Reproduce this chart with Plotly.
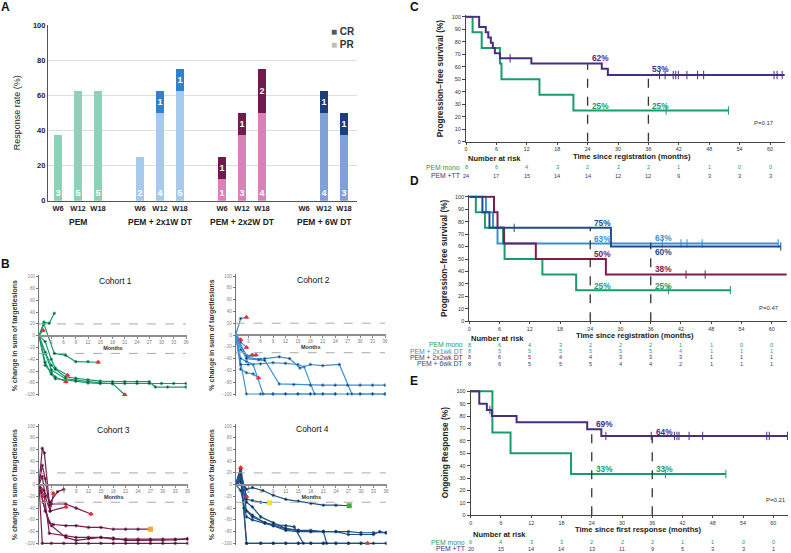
import plotly.graph_objects as go

W, H = 791, 553
FONT = "Liberation Sans, Arial, sans-serif"

# ---------------- Panel A data ----------------
groups = ["PEM", "PEM + 2x1W DT", "PEM + 2x2W DT", "PEM + 6W DT"]
weeks = ["W6", "W12", "W18"]
n_per_cohort = 8
pr_counts = [[3, 5, 5], [2, 4, 5], [1, 3, 4], [0, 4, 3]]
cr_counts = [[0, 0, 0], [0, 1, 1], [1, 1, 2], [0, 1, 1]]
pr_colors = ["#8fd1b6", "#a7c9ec", "#d982b9", "#7fa0d8"]
cr_colors = ["#8fd1b6", "#2d82cb", "#6e1b4d", "#1a3f7b"]

# ---------------- Panel B data (months, % change, end marker) ----------------
cohort1 = [
    ([0, 1.0], [0, 9], "prog"),
    ([0, 1.2, 2.5, 3.75], [0, 23, 21, 38], None),
    ([0, 1.2, 3.75, 6.5, 9, 12, 14.5], [0, 20, -30, -33, -44, -44, -45], "prog"),
    ([0, 1.5, 3, 4, 7], [0, -10, -40, -55, -67], "prog"),
    ([0, 1.5, 3, 4, 6.6], [0, -50, -62, -70, -78], "prog"),
    ([0, 1.5, 3, 6.5, 9, 12, 15, 18, 21], [0, -30, -58, -73, -75, -78, -80, -81, -100], "prog"),
    ([0, 1.5, 3, 4, 6.5, 9, 12, 15, 18, 21, 24, 27, 28.5, 31.5, 36],
     [0, -28, -50, -57, -70, -72, -75, -77, -78, -78, -78, -78, -87, -87, -87], None),
    ([0, 1.5, 3, 4, 9, 12, 15, 18, 21, 24, 27, 30, 33, 36],
     [0, -45, -65, -73, -77, -80, -81, -81, -81, -81, -81, -81, -81, -81], None),
]
cohort2 = [
    ([0, 1.2, 2.6], [0, 28, 30], "prog"),
    ([0, 1.2], [0, -8], "prog"),
    ([0, 1.2, 2.6], [0, -12, -21], "prog"),
    ([0, 2.6, 4.0], [0, -35, -34], "prog"),
    ([0, 1.2, 2.6, 4.9], [0, -25, -37, -34], "prog"),
    ([0, 1.2, 2.6, 4.2, 5.5], [0, -58, -64, -66, -73], "prog"),
    ([0, 2.6, 6, 9, 12, 15, 18, 21, 24, 27, 30, 33, 36],
     [0, -100, -100, -100, -100, -100, -100, -100, -100, -100, -100, -100, -100], None),
    ([0, 1.2, 2.6, 4.2, 6.6, 9, 12, 15, 18],
     [0, -40, -45, -50, -100, -100, -100, -100, -100], None),
    ([0, 1.2, 3, 6, 9, 12, 15, 16.5, 19, 21, 24],
     [0, -50, -50, -49, -47, -48, -50, -54, -100, -100, -100], None),
    ([0, 2.6, 6, 7, 10.5, 13, 15.5, 18, 21, 25, 28, 30, 33, 36],
     [0, -38, -41, -40, -37, -40, -56, -50, -52, -50, -100, -100, -100, -100], None),
    ([0, 2.6, 5.5, 7, 10.5, 14, 18, 21, 24, 27, 30, 33, 36],
     [0, -40, -42, -43, -83, -84, -85, -85, -85, -85, -85, -85, -85], None),
]
cohort3 = [
    ([0, 0.8, 1.3, 2.7, 6.5], [0, 62, 54, -45, -38], "prog"),
    ([0, 0.8, 1.5, 2.5, 3, 6.5, 9, 12.6], [0, 33, 10, -35, -33, -33, -40, -50], "prog"),
    ([0, 0.8, 1.5, 2.7, 3.5], [0, 14, -20, -45, -15], "prog"),
    ([0, 1.2, 2.7, 4.5, 6], [0, -10, -30, -12, -8], None),
    ([0, 0.9], [0, -18], "prog"),
    ([0, 1, 2.5, 3.5, 6.5, 9, 12, 15, 18, 21, 24, 27],
     [0, -30, -65, -68, -70, -70, -73, -73, -76, -76, -76, -76], "orange"),
    ([0, 1.3, 2.5, 6.5, 9, 12, 15, 18, 21, 24, 27, 30, 33, 36],
     [0, -20, -83, -87, -90, -90, -90, -93, -93, -93, -93, -93, -93, -93], None),
    ([0, 1.5, 3, 6.5, 9, 12, 15, 18, 21, 24, 27, 30, 33, 36],
     [0, -45, -70, -90, -95, -92, -90, -91, -95, -95, -95, -95, -94, -92], None),
    ([0, 0.8, 3, 6, 9, 12, 15, 18, 21, 24, 27, 30, 33, 36],
     [0, -100, -100, -100, -100, -100, -100, -100, -100, -100, -100, -100, -100, -100], None),
]
cohort4 = [
    ([0, 1.2], [0, 29], "prog"),
    ([0, 1.2, 2.6], [0, 20, -20], "prog"),
    ([0, 1.2, 2.6, 4, 6, 8.1], [0, 25, -25, -27, -30, -31], "yellow"),
    ([0, 1.2, 2.6, 4, 6.5, 9, 12, 15, 18, 21, 24, 27.2],
     [0, 10, -8, -5, -10, -18, -25, -28, -32, -35, -35, -36], "green"),
    ([0, 1.2, 2.6, 6, 9, 12, 15, 18, 21, 24, 27, 30, 33, 36],
     [0, 28, -100, -100, -100, -100, -100, -100, -100, -100, -100, -100, -100, -100], None),
    ([0, 1.2, 2.6, 6, 9, 12, 15, 18, 21, 24, 27, 30, 31.6],
     [0, 15, -100, -100, -100, -100, -100, -100, -100, -100, -100, -100, -100], "prog"),
    ([0, 1.2, 2, 4, 7, 9, 12, 14, 16.2], [0, 5, -40, -52, -65, -68, -70, -72, -100], None),
    ([0, 1.2, 2.6, 4, 7, 9, 12, 15, 18, 21, 21.8],
     [0, -10, -55, -60, -66, -70, -75, -78, -78, -80, -100], None),
    ([0, 1.2, 2.6, 4, 6, 9, 12, 15, 18, 21, 24, 27, 30, 33, 36],
     [0, 5, -30, -38, -55, -65, -75, -78, -80, -80, -80, -80, -82, -82, -82], None),
    ([0, 1.2, 2.6, 4, 7, 9, 12, 15, 18, 21, 24, 27, 30, 33, 34.5, 36],
     [0, 18, -45, -55, -65, -70, -78, -80, -80, -80, -80, -85, -85, -85, -80, -82], None),
]
cohort_titles = ["Cohort 1", "Cohort 2", "Cohort 3", "Cohort 4"]
cohort_colors = ["#1a9a6a", "#3a8fd6", "#7a1c4f", "#1d4f8c"]
end_styles = {
    "prog": dict(symbol="triangle-up", color="#e8312a", size=5),
    "orange": dict(symbol="square", color="#f7a13a", size=5),
    "yellow": dict(symbol="square", color="#f2e51e", size=5),
    "green": dict(symbol="square", color="#3cb043", size=5),
}

# ---------------- KM data ----------------
risk_times = [0, 6, 12, 18, 24, 30, 36, 42, 48, 54, 60]

mono_t = [0, 1.3, 3.1, 6.7, 7.0, 14.5, 21.2, 51.8]
mono_s = [100, 87.5, 75, 62.5, 50, 37.5, 25, 25]
mono_c = [39.5, 51.8]

tt_t = [0, 2.6, 3.9, 4.4, 4.9, 5.3, 5.7, 6.7, 12.9, 26.8, 28.0, 62.9]
tt_s = [100, 91.7, 87.5, 83.3, 79.2, 75, 70.8, 66.7, 62.5, 58.3, 53.3, 53.3]
tt_c = [8.7, 38.2, 39.3, 40.9, 41.4, 41.9, 43.6, 45.7, 46.9, 60.8, 61.4, 62.4]

wk1_t = [0, 3.3, 4.7, 5.6, 61.3]
wk1_s = [100, 87.5, 75, 62.5, 62.5]
wk1_c = [38.3, 42.0, 43.2, 46.2, 61.3]

wk2_t = [0, 4.9, 5.6, 6.9, 13.2, 27.1, 63]
wk2_s = [100, 87.5, 75, 62.5, 50, 37.5, 37.5]
wk2_c = [43.0, 46.8]

wk6_t = [0, 2.6, 4.0, 28.1, 61.8]
wk6_s = [100, 87.5, 75, 60, 60]
wk6_c = [8.9, 61.8]

resp_tt_t = [0, 1.7, 3.2, 4.2, 9.1, 23.1, 25.9, 62.8]
resp_tt_s = [100, 90, 85, 80, 75, 69.4, 64, 64]
resp_tt_c = [3.8, 26.8, 35.8, 40.4, 40.9, 41.3, 43.3, 46.0, 58.7, 59.2, 62.8]
resp_mono_t = [0, 4.3, 7.9, 19.9, 50.6]
resp_mono_s = [100, 66.7, 50, 33.3, 33.3]
resp_mono_c = [38.6, 50.6]

risk_C = {"PEM mono": [8, 6, 4, 3, 2, 2, 2, 1, 1, 0, 0],
          "PEM +TT": [24, 17, 15, 14, 14, 12, 12, 9, 3, 3, 3]}
risk_D = {"PEM mono": [8, 6, 4, 3, 2, 2, 2, 1, 1, 0, 0],
          "PEM + 2x1wk DT": [8, 5, 5, 5, 5, 5, 5, 4, 1, 1, 1],
          "PEM + 2x2wk DT": [8, 6, 5, 4, 4, 3, 3, 3, 1, 1, 1],
          "PEM + 6wk DT": [8, 6, 5, 5, 5, 4, 4, 2, 1, 1, 1]}
risk_E = {"PEM mono": [6, 4, 3, 3, 2, 2, 2, 1, 1, 0, 0],
          "PEM +TT": [20, 15, 14, 14, 13, 11, 9, 5, 3, 3, 1]}

milestones_C = {"PEM +TT": (62, 53), "PEM mono": (25, 25)}
milestones_D = {"PEM + 6wk DT": (75, 60), "PEM + 2x1wk DT": (63, 63),
                "PEM + 2x2wk DT": (50, 38), "PEM mono": (25, 25)}
milestones_E = {"PEM +TT": (69, 64), "PEM mono": (33, 33)}
pvals = {"C": "P=0.17", "D": "P=0.47", "E": "P=0.21"}

GREEN, PURPLE = "#1a9b6c", "#4b2d7f"
LBLUE, MAROON, NAVY = "#3d8fd4", "#7b1d4f", "#1e4c8a"
row_colors = {"PEM mono": GREEN, "PEM +TT": PURPLE, "PEM + 2x1wk DT": LBLUE,
              "PEM + 2x2wk DT": MAROON, "PEM + 6wk DT": NAVY}


# ---------------- helpers ----------------
def xdom(pa, va, pb, vb, r0, r1):
    s = (pb - pa) / (vb - va)
    return [(pa + (r0 - va) * s) / W, (pa + (r1 - va) * s) / W]


def ydom(pa, va, pb, vb, r0, r1):
    s = (pb - pa) / (vb - va)
    return [1 - (pa + (r0 - va) * s) / H, 1 - (pa + (r1 - va) * s) / H]


def py(p):
    return 1 - p / H


def px(p):
    return p / W


def note(**kw):
    d = dict(showarrow=False, xanchor="center", yanchor="middle")
    d.update(kw)
    return d


fig = go.Figure()
ann = []
shapes = []

# ================= Panel A =================
xpos, xlab, pr_y, cr_y, pr_txt, cr_txt, prc, crc = [], [], [], [], [], [], [], []
for g in range(len(groups)):
    for i, wk in enumerate(weeks):
        xpos.append(g * 4.1 + i)
        xlab.append(wk)
        pr_y.append(pr_counts[g][i] / n_per_cohort * 100)
        cr_y.append(cr_counts[g][i] / n_per_cohort * 100)
        pr_txt.append(str(pr_counts[g][i]) if pr_counts[g][i] else "")
        cr_txt.append(str(cr_counts[g][i]) if cr_counts[g][i] else "")
        prc.append(pr_colors[g])
        crc.append(cr_colors[g])

fig.add_trace(go.Bar(x=xpos, y=pr_y, width=0.4, marker=dict(color=prc, line=dict(width=0)),
                     text=pr_txt, textposition="inside", insidetextanchor="start", textangle=0,
                     textfont=dict(color="white", size=9, family=FONT, weight="bold"),
                     xaxis="x", yaxis="y", showlegend=False, hoverinfo="skip"))
fig.add_trace(go.Bar(x=xpos, y=cr_y, width=0.4, marker=dict(color=crc, line=dict(width=0)),
                     text=cr_txt, textposition="inside", insidetextanchor="middle", textangle=0,
                     textfont=dict(color="white", size=9, family=FONT, weight="bold"),
                     xaxis="x", yaxis="y", showlegend=False, hoverinfo="skip"))

layout_axes = {}
layout_axes["xaxis"] = dict(domain=xdom(58, 0, 78, 1, -0.5, 14.95), range=[-0.5, 14.95],
                            tickvals=xpos, ticktext=xlab, ticks="", showline=True,
                            linecolor="#555", linewidth=1.2, showgrid=False, zeroline=False,
                            tickfont=dict(size=7.5, family=FONT, weight="bold", color="#222"),
                            anchor="y", automargin=False)
layout_axes["yaxis"] = dict(domain=ydom(200.7, 0, 25, 100, 0, 100), range=[0, 100],
                            tickvals=[0, 20, 40, 60, 80, 100], showline=True, linecolor="#555",
                            linewidth=1.2, showgrid=True, gridcolor="#dedede", zeroline=False,
                            ticks="", tickfont=dict(size=7.5, family=FONT, weight="bold", color="#222"),
                            title=dict(text="Response rate (%)", font=dict(size=9, family=FONT, color="#222"),
                                       standoff=10),
                            anchor="x", automargin=False)
for g, name in enumerate(groups):
    ann.append(note(x=g * 4.1 + 1, xref="x", y=py(222), yref="paper", text=name,
                    font=dict(size=8.5, family=FONT, weight="bold", color="#222")))
ann.append(note(x=px(329), y=py(32), xref="paper", yref="paper", xanchor="left",
                text="<span style='color:#5a5a5a'>■</span> <b>CR</b>",
                font=dict(size=10, family=FONT, color="#333")))
ann.append(note(x=px(329), y=py(45), xref="paper", yref="paper", xanchor="left",
                text="<span style='color:#bdbdbd'>■</span> <b>PR</b>",
                font=dict(size=10, family=FONT, color="#333")))

# ================= Panel B =================
spider_geo = [  # (x0 px, x36 px, y100 px, y-100 px)
    (39, 186, 276.7, 394.7),
    (235.7, 385, 276, 394),
    (39, 187.6, 426, 543.3),
    (235.7, 386, 426, 543.3),
]
title_pos = [(115, 280.5), (313, 279.5), (113.5, 429.5), (312.5, 429)]
cohorts = [cohort1, cohort2, cohort3, cohort4]
for k in range(4):
    ax = k + 2
    xa, ya = f"x{ax}", f"y{ax}"
    x0p, x36p, y100p, ym100p = spider_geo[k]
    col = cohort_colors[k]
    for (mx, vy, end) in cohorts[k]:
        sizes = [0] + [2.6] * (len(mx) - 1)
        fig.add_trace(go.Scatter(x=mx, y=vy, mode="lines+markers", xaxis=xa, yaxis=ya,
                                 line=dict(color=col, width=1.2),
                                 marker=dict(color="black", size=sizes),
                                 showlegend=False, hoverinfo="skip"))
    for key, st in end_styles.items():
        ex = [m[-1] for (m, v, e) in cohorts[k] if e == key]
        ey = [v[-1] for (m, v, e) in cohorts[k] if e == key]
        if ex:
            fig.add_trace(go.Scatter(x=ex, y=ey, mode="markers", xaxis=xa, yaxis=ya,
                                     marker=dict(symbol=st["symbol"], color=st["color"], size=st["size"]),
                                     showlegend=False, hoverinfo="skip", cliponaxis=False))
    yzero = (y100p + ym100p) / 2
    layout_axes[f"xaxis{ax}"] = dict(domain=xdom(x0p, 0, x36p, 36, 0, 36.2), range=[0, 36.2],
                                     anchor="free", position=py(yzero), automargin=False,
                                     tickvals=list(range(3, 37, 3)), ticks="outside", ticklen=2,
                                     tickcolor="#888", showline=True, linecolor="#8f8f8f", linewidth=2,
                                     showgrid=False, zeroline=False,
                                     tickfont=dict(size=4.5, family=FONT, color="#777"),
                                     title=dict(text="Months", standoff=1,
                                                font=dict(size=5.5, family=FONT, weight="bold", color="#333")))
    layout_axes[f"yaxis{ax}"] = dict(domain=ydom(y100p, 100, ym100p, -100, -103, 103), range=[-103, 103],
                                     anchor=xa, tickvals=list(range(-100, 101, 20)), ticks="outside",
                                     ticklen=2, tickcolor="#777", showline=True, linecolor="#777",
                                     linewidth=1, showgrid=False, zeroline=False, automargin=False,
                                     tickfont=dict(size=4.5, family=FONT, color="#888"),
                                     title=dict(text="% change in sum of targetlesions", standoff=6,
                                                font=dict(size=7, family=FONT, weight="bold", color="#333")))
    for lvl in (20, -30):
        shapes.append(dict(type="line", xref=xa, yref=ya, x0=0, x1=36, y0=lvl, y1=lvl,
                           line=dict(color="#aaaaaa", width=1, dash="dash")))
    ann.append(note(x=px(title_pos[k][0]), y=py(title_pos[k][1]), xref="paper", yref="paper",
                    text=cohort_titles[k], font=dict(size=8.5, family=FONT, color="#111")))


# ================= KM panels =================
def surv_at(ts, ss, t):
    v = ss[0]
    for a, b in zip(ts, ss):
        if a <= t:
            v = b
    return v


def add_km(ax, curves, geo, ytitle, xtitle, xtitle_pos, risk, risk_rows_y, risk_hdr, milestones,
           ms_offsets, pval, pval_pos):
    xa, ya = f"x{ax}", f"y{ax}"
    x0p, x60p, y0p, y100p = geo
    for ts, ss, cs, col in curves:
        fig.add_trace(go.Scatter(x=ts, y=ss, mode="lines", xaxis=xa, yaxis=ya,
                                 line=dict(color=col, width=2, shape="hv"),
                                 showlegend=False, hoverinfo="skip"))
        fig.add_trace(go.Scatter(x=cs, y=[surv_at(ts, ss, c) for c in cs], mode="markers",
                                 xaxis=xa, yaxis=ya, cliponaxis=False,
                                 marker=dict(symbol="line-ns-open", size=6, color=col,
                                             line=dict(width=1, color=col)),
                                 showlegend=False, hoverinfo="skip"))
    layout_axes[f"xaxis{ax}"] = dict(domain=xdom(x0p, 0, x60p, 60, 0, 63), range=[0, 63], anchor=ya,
                                     tickvals=risk_times, ticks="outside", ticklen=2, tickcolor="#444",
                                     showline=True, linecolor="#444", linewidth=1, showgrid=False,
                                     zeroline=False, automargin=False,
                                     tickfont=dict(size=5.3, family=FONT, color="#333"))
    layout_axes[f"yaxis{ax}"] = dict(domain=ydom(y0p, 0, y100p, 100, 0, 101), range=[0, 101], anchor=xa,
                                     tickvals=list(range(0, 101, 10)), ticks="outside", ticklen=3,
                                     tickcolor="#444", showline=True, linecolor="#444", linewidth=1,
                                     showgrid=False, zeroline=False, automargin=False,
                                     tickfont=dict(size=5.5, family=FONT, color="#333"),
                                     title=dict(text=ytitle, standoff=6,
                                                font=dict(size=8.3, family=FONT, weight="bold", color="#222")))
    ann.append(note(x=px(xtitle_pos[0]), y=py(xtitle_pos[1]), xref="paper", yref="paper",
                    text=xtitle, font=dict(size=7.6, family=FONT, weight="bold", color="#222")))
    ann.append(note(x=px(x0p), y=py(risk_hdr), xref="paper", yref="paper", xanchor="left",
                    text="Number at risk", font=dict(size=7.5, family=FONT, weight="bold", color="#222")))
    for (name, nums), ry in zip(risk.items(), risk_rows_y):
        col = row_colors[name]
        ann.append(note(x=px(x0p - 4), y=py(ry), xref="paper", yref="paper", xanchor="right",
                        text=name, font=dict(size=6.8, family=FONT, color=col)))
        for t, n in zip(risk_times, nums):
            ann.append(note(x=t, xref=xa, y=py(ry), yref="paper", text=str(n),
                            font=dict(size=5.6, family=FONT, color=col)))
    heights = [max(v[0] for v in milestones.values()), max(v[1] for v in milestones.values())]
    for t, h in zip((24, 36), heights):
        shapes.append(dict(type="line", xref=xa, yref=ya, x0=t, x1=t, y0=0, y1=h,
                           line=dict(color="#333", width=1.3, dash="dash")))
    for name, (v24, v36) in milestones.items():
        col = row_colors[name]
        for t, v, off in ((24, v24, ms_offsets[name][0]), (36, v36, ms_offsets[name][1])):
            ann.append(note(x=t + 0.4, y=v + off, xref=xa, yref=ya, xanchor="left",
                            text=f"{v}%", font=dict(size=8.3, family=FONT, weight="bold", color=col)))
    ann.append(note(x=pval_pos[0], y=pval_pos[1], xref=xa, yref=ya, text=pval,
                    font=dict(size=6, family=FONT, color="#333")))


add_km(6, [(mono_t, mono_s, mono_c, GREEN), (tt_t, tt_s, tt_c, PURPLE)],
       (466, 770, 141.7, 16.7), "Progression−free survival (%)", "Time since registration (months)",
       (632, 156.5), risk_C, [167, 176], 158, milestones_C,
       {"PEM +TT": (5, 5.5), "PEM mono": (3.5, 3.5)}, pvals["C"], (58.8, 15))
add_km(7, [(mono_t, mono_s, mono_c, GREEN), (wk1_t, wk1_s, wk1_c, LBLUE),
           (wk2_t, wk2_s, wk2_c, MAROON), (wk6_t, wk6_s, wk6_c, NAVY)],
       (469.3, 771.7, 321.3, 196.7), "Progression−free survival (%)", "Time since registration (months)",
       (635, 335), risk_D, [344.6, 351, 357.4, 363.9], 338.5, milestones_D,
       {"PEM + 6wk DT": (3.6, -4.6), "PEM + 2x1wk DT": (3, 3.6), "PEM + 2x2wk DT": (4, 3.7),
        "PEM mono": (3.3, 3.3)}, pvals["D"], (59.5, 11))
add_km(8, [(resp_mono_t, resp_mono_s, resp_mono_c, GREEN), (resp_tt_t, resp_tt_s, resp_tt_c, PURPLE)],
       (470.7, 773.3, 515.3, 391.3), "Ongoing Response (%)", "Time since first response (months)",
       (638.7, 529), risk_E, [542.3, 548.5], 534, milestones_E,
       {"PEM +TT": (4.6, 3.4), "PEM mono": (4, 4)}, pvals["E"], (60.5, 12))

# ================= Panel letters =================
for letter, (lx, ly) in {"A": (5, 7), "B": (5, 264), "C": (414, 7), "D": (414, 181), "E": (414, 381)}.items():
    ann.append(note(x=px(lx), y=py(ly), xref="paper", yref="paper", text=letter,
                    font=dict(size=12, family=FONT, weight="bold", color="#111")))

fig.update_layout(width=W, height=H, margin=dict(l=0, r=0, t=0, b=0, autoexpand=False),
                  paper_bgcolor="white", plot_bgcolor="rgba(0,0,0,0)", barmode="stack", bargap=0,
                  font=dict(family=FONT), annotations=ann, shapes=shapes, showlegend=False,
                  uniformtext=dict(minsize=9, mode="show"), **layout_axes)
fig.write_html("out.html", config={"displayModeBar": False},
               post_script="document.body.style.margin='0px';")
